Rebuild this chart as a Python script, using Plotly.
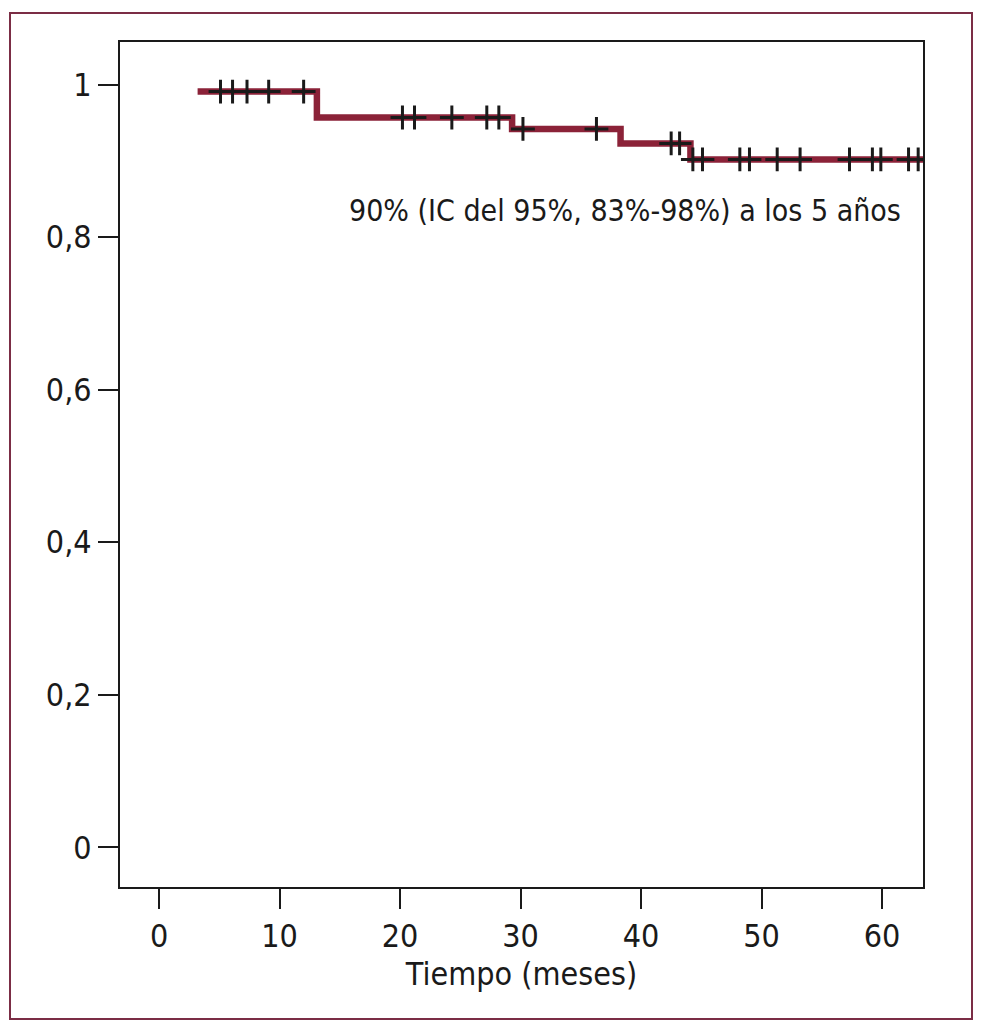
import plotly.graph_objects as go

# Kaplan-Meier step data (months, survival)
start_time = 3.2
end_time = 63.4
event_times = [13.1, 29.3, 38.3, 44.1]
surv_levels = [0.991, 0.957, 0.942, 0.923, 0.902]

# Censored observations (months)
censor_times = [5.1, 6.1, 7.3, 9.1, 12.0,
                20.2, 21.2, 24.3, 27.2, 28.2,
                30.2, 36.3,
                42.5, 43.2,
                44.3, 45.1, 48.2, 49.0, 51.3, 53.2, 57.3, 59.2, 59.9, 62.2, 63.0]

x_ticks = [0, 10, 20, 30, 40, 50, 60]
y_ticks = [0, 0.2, 0.4, 0.6, 0.8, 1]
y_tick_labels = ["0", "0,2", "0,4", "0,6", "0,8", "1"]

annotation_text = "90% (IC del 95%, 83%-98%) a los 5 años"
x_title = "Tiempo (meses)"

def surv_at(t):
    s = surv_levels[0]
    for i, et in enumerate(event_times):
        if t >= et:
            s = surv_levels[i + 1]
    return s

step_x = [start_time] + event_times + [end_time]
step_y = surv_levels + [surv_levels[-1]]
censor_y = [surv_at(t) for t in censor_times]

FONT = "Liberation Sans Narrow, DejaVu Sans Condensed, Roboto, sans-serif"
CURVE = "#8B2238"

fig = go.Figure()
fig.add_trace(go.Scatter(x=step_x, y=step_y, mode="lines", line=dict(color=CURVE, width=6.5, shape="hv"),
                         hoverinfo="skip", showlegend=False))
fig.add_trace(go.Scatter(x=censor_times, y=censor_y, mode="markers",
                         marker=dict(symbol="cross-thin", size=17, line=dict(color="#1a1a1a", width=3)),
                         hoverinfo="skip", showlegend=False))

OFF = 8  # page body margin
W, H = 991 - 2 * OFF, 1029 - 2 * OFF
L, R, T, B = 120 - OFF, 923 - OFF, 42 - OFF, 887 - OFF
fig.update_layout(
    width=W, height=H,
    margin=dict(l=L, r=W - R, t=T, b=H - B),
    paper_bgcolor="white", plot_bgcolor="white",
    font=dict(family=FONT, size=32, color="#1a1a1a"),
    xaxis=dict(range=[-3.24, 63.4], tickvals=x_ticks, ticks="outside", ticklen=20, tickwidth=2,
               tickcolor="#1a1a1a", showline=True, linecolor="#1a1a1a", linewidth=2, mirror=True,
               showgrid=False, zeroline=False, title=dict(text=x_title, font=dict(size=32), standoff=6)),
    yaxis=dict(range=[-0.052, 1.056], tickvals=y_ticks, ticktext=y_tick_labels, ticks="outside",
               ticklen=20, tickwidth=2, tickcolor="#1a1a1a", showline=True, linecolor="#1a1a1a",
               linewidth=2, mirror=True, showgrid=False, zeroline=False),
)
pw, ph = R - L, B - T
fig.add_annotation(text=annotation_text, x=(903 - OFF - L) / pw, y=(B - (210 - OFF)) / ph,
                   xref="paper", yref="paper", showarrow=False, font=dict(size=30),
                   xanchor="right", yanchor="middle")
fig.add_shape(type="rect", xref="paper", yref="paper",
              x0=(10 - OFF - L) / pw, x1=(972 - OFF - L) / pw,
              y0=(B - (1019 - OFF)) / ph, y1=(B - (13 - OFF)) / ph,
              line=dict(color="#7B2D45", width=2), fillcolor="rgba(0,0,0,0)", layer="below")

fig.write_html("out.html", config={"displayModeBar": False})
